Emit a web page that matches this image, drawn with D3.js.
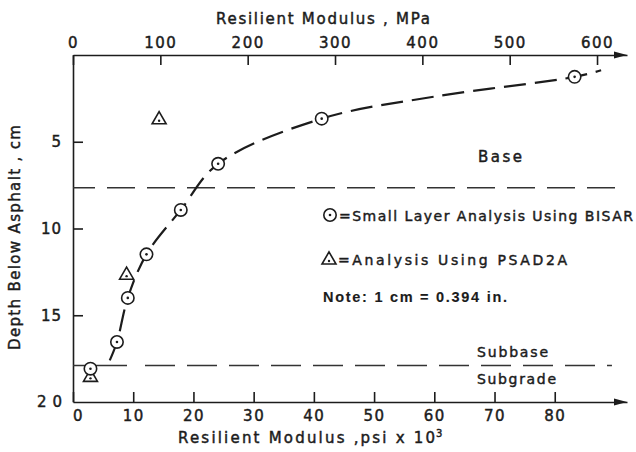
<!DOCTYPE html>
<html>
<head>
<meta charset="utf-8">
<script src="https://cdn.jsdelivr.net/npm/d3@7"></script>
<style>
  body { margin: 0; background: #fff; }
  svg text { font-family: "DejaVu Sans", sans-serif; fill: #1c1c1c; stroke: #1c1c1c; stroke-width: 0.45px; }
</style>
</head>
<body>
<div id="chart"></div>
<script>
// ticks
const psiTicks = [0, 10, 20, 30, 40, 50, 60, 70, 80];
const mpaTicks = [0, 100, 200, 300, 400, 500, 600];
const depthTicks = [5, 10, 15, 20];

// small layer analysis using BISAR (psi x 10^3 vs depth cm)
const bisarPsi   = [83.3, 41.3, 24.1, 17.9, 12.2, 9.1, 7.3, 2.9];
const bisarDepth = [1.26, 3.67, 6.27, 8.93, 11.49, 14.0, 16.54, 18.08];

// analysis using PSAD2A
const psadPsi   = [14.3, 8.9, 2.9];
const psadDepth = [3.73, 12.69, 18.58];

// dashed fitted curve
const curvePsi   = [6.1, 7.3, 9.1, 12.2, 17.9, 24.1, 41.3, 60.0, 83.3, 87.7];
const curveDepth = [17.6, 16.54, 14.0, 11.49, 8.93, 6.27, 3.67, 2.4, 1.26, 0.88];

// layer boundaries
const layerDepth = [7.65, 17.9];

const KSI_TO_MPA = 6.894757;

const width = 636, height = 452;
const margin = {top: 55, right: 9, bottom: 50, left: 73};
const ink = '#1c1c1c';

const svg = d3.select('#chart').append('svg')
    .attr('width', width)
    .attr('height', height);

// scales
const x = d3.scaleLinear([0, 92], [margin.left, width - margin.right]);
const xMpa = d3.scaleLinear([0, 92 * KSI_TO_MPA], [margin.left, width - margin.right]);
const y = d3.scaleLinear([0, 20], [margin.top, height - margin.bottom]);

// stretch a text to the width it has in the picture
function fit(sel, w) {
    sel.attr('textLength', w).attr('lengthAdjust', 'spacing');
    return sel;
}

function styleAxis(g) {
    g.select('.domain').attr('stroke', ink).attr('stroke-width', 1.6);
    g.selectAll('.tick line').attr('stroke', ink).attr('stroke-width', 1.6);
    g.selectAll('.tick text')
        .attr('fill', ink)
        .style('font-size', '15px')
        .style('letter-spacing', '1.5px')
        .style('font-family', '"DejaVu Sans", sans-serif');
}

// bottom axis (psi)
const axisB = svg.append('g')
    .attr('transform', `translate(0,${y(20)})`)
    .call(d3.axisBottom(x).tickValues(psiTicks).tickSizeInner(-10).tickSizeOuter(0).tickPadding(8))
    .call(styleAxis);
axisB.selectAll('.tick text').filter(d => d === 0).attr('dx', 5);

// top axis (MPa)
const axisT = svg.append('g')
    .attr('transform', `translate(0,${y(0)})`)
    .call(d3.axisTop(xMpa).tickValues(mpaTicks).tickSizeInner(-10).tickSizeOuter(0).tickPadding(7))
    .call(styleAxis);

// left axis (depth)
const axisL = svg.append('g')
    .attr('transform', `translate(${margin.left},0)`)
    .call(d3.axisLeft(y).tickValues(depthTicks).tickSizeInner(-10).tickSizeOuter(0).tickPadding(11))
    .call(styleAxis);
axisL.selectAll('.tick text').style('letter-spacing', '1px');
axisL.selectAll('.tick line').filter(d => d === 20).remove();
axisL.selectAll('.tick text').filter(d => d === 20).style('letter-spacing', '6px').attr('dx', 6);

// arrow heads on the two horizontal axes
const xEnd = x.range()[1];
[y(0), y(20)].forEach(yy => {
    svg.append('path')
        .attr('d', `M${xEnd - 13},${yy - 3.5}L${xEnd},${yy}L${xEnd - 13},${yy + 3.5}Z`)
        .attr('fill', ink);
});

// layer boundaries
svg.append('line')
    .attr('x1', x(0)).attr('x2', x(92))
    .attr('y1', y(layerDepth[0])).attr('y2', y(layerDepth[0]))
    .attr('stroke', '#333').attr('stroke-width', 1.6)
    .attr('stroke-dasharray', '28,12').attr('stroke-dashoffset', 6);
svg.append('line')
    .attr('x1', x(0)).attr('x2', x(89.5))
    .attr('y1', y(layerDepth[1])).attr('y2', y(layerDepth[1]))
    .attr('stroke', '#333').attr('stroke-width', 1.6)
    .attr('stroke-dasharray', '54,18,30,12,30,12,30,12,30,12,30,12,30,12,30,12,30,12,30,12,30,12,30,12,30,12,30,12');

// fitted curve
const line = d3.line()
    .x((d, i) => x(curvePsi[i]))
    .y((d, i) => y(curveDepth[i]))
    .curve(d3.curveCatmullRom.alpha(0.5));
svg.append('path')
    .datum(curvePsi)
    .attr('d', line)
    .attr('fill', 'none')
    .attr('stroke', ink)
    .attr('stroke-width', 2.2)
    .attr('stroke-dasharray', '22,9');

// markers
const tri = d3.symbol().type(d3.symbolTriangle).size(85);
function triangle(g, cx, cy) {
    g.append('path').attr('d', tri())
        .attr('transform', `translate(${cx},${cy})`)
        .attr('fill', '#fff').attr('stroke', ink).attr('stroke-width', 1.6);
    g.append('circle').attr('cx', cx).attr('cy', cy + 1).attr('r', 1.2).attr('fill', ink);
}
function ring(g, cx, cy) {
    g.append('circle').attr('cx', cx).attr('cy', cy).attr('r', 6.2)
        .attr('fill', '#fff').attr('stroke', ink).attr('stroke-width', 1.6);
    g.append('circle').attr('cx', cx).attr('cy', cy).attr('r', 1.3).attr('fill', ink);
}

const marks = svg.append('g');
psadPsi.forEach((v, i) => triangle(marks, x(v), y(psadDepth[i])));
bisarPsi.forEach((v, i) => ring(marks, x(v), y(bisarDepth[i])));

// titles
fit(svg.append('text').attr('x', 216).attr('y', 24).style('font-size', '15px'), 214)
    .text('Resilient Modulus , MPa');
fit(svg.append('text').attr('x', 178).attr('y', 443).style('font-size', '15px'), 257)
    .text('Resilient Modulus ,psi x 10');
svg.append('text').attr('x', 436).attr('y', 437).style('font-size', '10px').text('3');
fit(svg.append('text')
    .attr('transform', 'translate(20,350)rotate(-90)')
    .style('font-size', '15px'), 225)
    .text('Depth Below Asphalt , cm');

// layer names
fit(svg.append('text').attr('x', 478).attr('y', 162).style('font-size', '15px'), 44).text('Base');
fit(svg.append('text').attr('x', 477).attr('y', 357).style('font-size', '14px'), 71).text('Subbase');
fit(svg.append('text').attr('x', 477).attr('y', 384).style('font-size', '14px'), 79).text('Subgrade');

// legend
const legend = svg.append('g');
ring(legend, 330, 215);
fit(legend.append('text').attr('x', 339).attr('y', 221).style('font-size', '14px'), 294)
    .text('=Small Layer Analysis Using BISAR');
triangle(legend, 329, 260);
fit(legend.append('text').attr('x', 338).attr('y', 265).style('font-size', '14px'), 229)
    .text('=Analysis Using PSAD2A');
fit(legend.append('text').attr('x', 323).attr('y', 302)
    .style('font-family', '"Liberation Sans", Arial, sans-serif')
    .style('font-weight', 'bold').style('font-size', '14.5px').style('stroke-width', '0.15px'), 184)
    .text('Note:  1 cm = 0.394 in.');
</script>
</body>
</html>
